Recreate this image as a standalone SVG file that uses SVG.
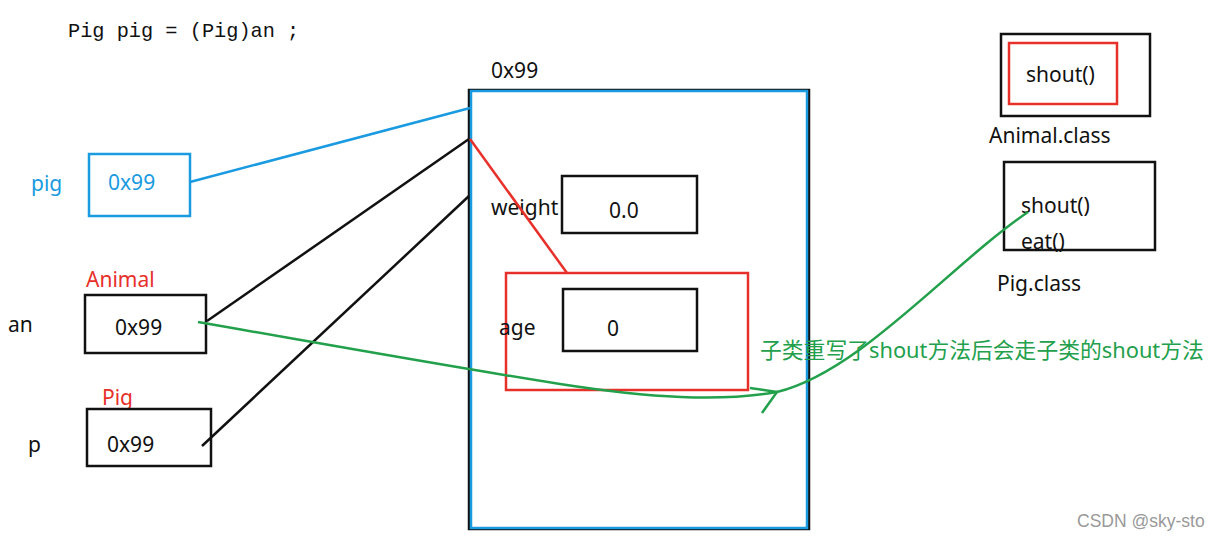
<svg xmlns="http://www.w3.org/2000/svg" width="1223" height="542" viewBox="0 0 1223 542">
<style>
text{font-family:"Noto Sans","Noto Sans CJK SC",sans-serif;font-size:21px;fill:#111}
.code{font-family:"Liberation Mono",monospace;font-size:20.3px}
.blue{fill:#1a9ae0}
.red{fill:#e8302a}
.green{fill:#22a04b;font-size:21.8px}
.box{fill:none;stroke:#111;stroke-width:2.5}
.bbox{fill:none;stroke:#1a9ae0;stroke-width:2.5}
.rbox{fill:none;stroke:#e8302a;stroke-width:2.5}
.wm{font-family:"Liberation Sans",sans-serif;font-size:17.5px;fill:#999}
</style>
<rect width="1223" height="542" fill="#fff"/>
<text class="code" x="68" y="37">Pig pig = (Pig)an ;</text>

<g id="heap">
<rect x="469" y="90" width="340" height="439" class="box"/>
<rect x="471" y="91" width="336" height="437" class="bbox"/>
<text x="491" y="78">0x99</text>
</g>
<g id="weight">
<rect x="562" y="176" width="135" height="57" class="box"/>
<text x="491" y="215">weight</text>
<text x="609" y="218">0.0</text>
</g>
<g id="age">
<rect x="506" y="273" width="242" height="117" class="rbox"/>
<rect x="563" y="289" width="134" height="62" class="box"/>
<text x="499" y="335">age</text>
<text x="607" y="336">0</text>
</g>

<g id="pig">
<text x="31" y="191" class="blue">pig</text>
<rect x="89" y="154" width="101" height="62" class="bbox"/>
<text x="108" y="190" class="blue">0x99</text>
</g>
<g id="an">
<text x="86" y="287" class="red">Animal</text>
<text x="8" y="332">an</text>
<rect x="85" y="295" width="121" height="58" class="box"/>
<text x="115" y="335">0x99</text>
</g>
<g id="p">
<text x="102" y="405" class="red">Pig</text>
<text x="28" y="452">p</text>
<rect x="87" y="409" width="124" height="57" class="box"/>
<text x="107" y="452">0x99</text>
</g>

<g id="animalClass">
<rect x="1001" y="34" width="149" height="82" class="box"/>
<rect x="1009" y="43" width="108" height="61" class="rbox"/>
<text x="1026" y="82">shout()</text>
<text x="989" y="143">Animal.class</text>
</g>
<g id="pigClass">
<rect x="1004" y="162" width="151" height="88" class="box"/>
<text x="1021" y="213">shout()</text>
<text x="1021" y="249">eat()</text>
<text x="997" y="291">Pig.class</text>
</g>

<g id="connectors" fill="none" stroke-width="2.5">
<line x1="190" y1="182" x2="470" y2="108" stroke="#1a9ae0"/>
<line x1="207" y1="321" x2="469" y2="139" stroke="#111"/>
<line x1="202" y1="446" x2="469" y2="196" stroke="#111"/>
<line x1="470" y1="139" x2="567" y2="273" stroke="#e8302a"/>
<path d="M198,322 C330,345 440,365 560,384 C650,398 720,402 777,392" stroke="#22a04b"/>
<path d="M750,388 L777,392 L762,413" stroke="#22a04b"/>
<path d="M777,392 C860,372 950,265 1028,212" stroke="#22a04b"/>
</g>
<text x="760" y="358" class="green">子类重写了shout方法后会走子类的shout方法</text>
<text x="1077" y="527" class="wm">CSDN @sky-sto</text>
</svg>
